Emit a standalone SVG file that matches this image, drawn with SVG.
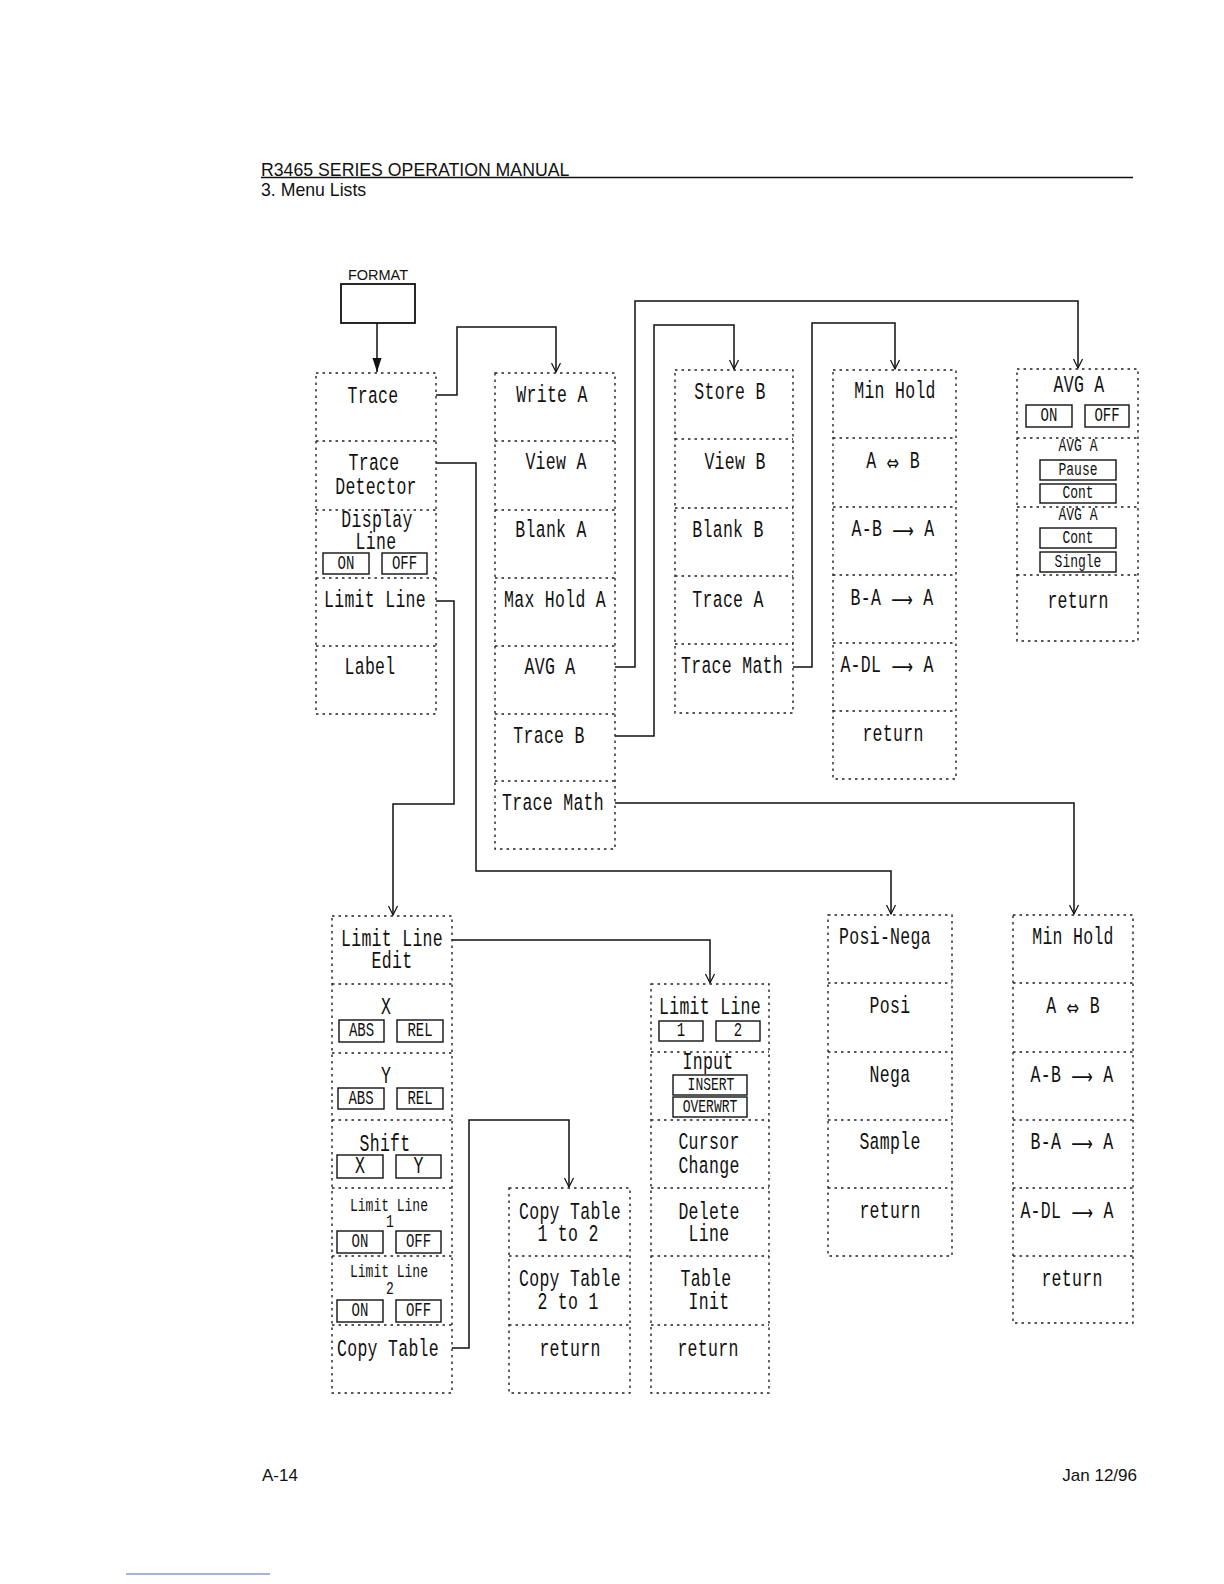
<svg xmlns="http://www.w3.org/2000/svg" width="1224" height="1584" viewBox="0 0 1224 1584">
<style>
.bg{fill:#fff}
.hdr{font-family:"Liberation Sans",Arial,sans-serif;fill:#111}
.m{font-family:"Liberation Mono","DejaVu Sans Mono",monospace;font-size:16.5px;text-anchor:middle;dominant-baseline:central;fill:#111;letter-spacing:0.3px;transform-box:fill-box;transform-origin:50% 50%;transform:scaleY(1.4)}
.s{font-size:14px;letter-spacing:0px}
.xs{font-size:13px;letter-spacing:0px}
.ar{font-family:"DejaVu Sans",sans-serif;font-size:15px}
.f{fill:none;stroke:#222;stroke-width:1.4;stroke-dasharray:2.5 4}
.b{fill:none;stroke:#111;stroke-width:1.4}
.c{fill:none;stroke:#111;stroke-width:1.5}
</style>
<defs>
<marker id="open" viewBox="-11 -6 12 12" markerWidth="12" markerHeight="12" refX="0" refY="0" markerUnits="userSpaceOnUse" orient="auto">
<path d="M-9,-4.5 L0,0 L-9,4.5" fill="none" stroke="#111" stroke-width="1.2"/>
</marker>
<marker id="solid" viewBox="-14 -6 15 12" markerWidth="15" markerHeight="12" refX="0" refY="0" markerUnits="userSpaceOnUse" orient="auto">
<path d="M-14,-4.5 L0,0 L-14,4.5 Z" fill="#111"/>
</marker>
</defs>
<rect class="bg" x="0" y="0" width="1224" height="1584"/>

<g id="page-header">
<text class="hdr" x="261" y="176" font-size="17.7">R3465 SERIES OPERATION MANUAL</text>
<line x1="261" y1="177.5" x2="1133" y2="177.5" stroke="#111" stroke-width="1.4"/>
<text class="hdr" x="261" y="196" font-size="17.7">3. Menu Lists</text>
</g>

<g id="format-key">
<text class="hdr" x="378" y="280" font-size="14.5" text-anchor="middle">FORMAT</text>
<rect x="341" y="284" width="74" height="39" fill="none" stroke="#111" stroke-width="1.8"/>
</g>

<g id="connectors">
<path class="c" d="M377 323 V372" marker-end="url(#solid)"/>
<path class="c" d="M436 395 H457 V327 H556 V372" marker-end="url(#open)"/>
<path class="c" d="M615 667 H635 V301 H1078 V368" marker-end="url(#open)"/>
<path class="c" d="M615 736 H654 V325 H734 V369" marker-end="url(#open)"/>
<path class="c" d="M793 667 H812 V323 H895 V369" marker-end="url(#open)"/>
<path class="c" d="M436 463 H476 V871 H891 V914" marker-end="url(#open)"/>
<path class="c" d="M436 601 H454 V804 H393 V915" marker-end="url(#open)"/>
<path class="c" d="M615 803 H1074 V914" marker-end="url(#open)"/>
<path class="c" d="M452 940 H710 V983" marker-end="url(#open)"/>
<path class="c" d="M452 1348 H469 V1120 H569 V1187" marker-end="url(#open)"/>
</g>

<g id="format-menu">
<rect class="f" x="316" y="373" width="120" height="341"/>
<path class="f" d="M316 441 H436 M316 510 H436 M316 578 H436 M316 646 H436"/>
<g id="fm-trace"><text class="m" x="373" y="397">Trace</text></g>
<g id="fm-trace-detector"><text class="m" x="374" y="464">Trace</text><text class="m" x="376" y="488">Detector</text></g>
<g id="fm-display-line"><text class="m" x="377" y="521">Display</text><text class="m" x="376" y="543">Line</text>
<rect class="b" x="323" y="553" width="46" height="21"/><text class="m s" x="346" y="563.5">ON</text>
<rect class="b" x="382" y="553" width="45" height="21"/><text class="m s" x="404.5" y="563.5">OFF</text></g>
<g id="fm-limit-line"><text class="m" x="375" y="601">Limit Line</text></g>
<g id="fm-label"><text class="m" x="370" y="668">Label</text></g>
</g>

<g id="trace-menu">
<rect class="f" x="495" y="373" width="120" height="476"/>
<path class="f" d="M495 441 H615 M495 510 H615 M495 578 H615 M495 646 H615 M495 714 H615 M495 781 H615"/>
<g id="tm-write-a"><text class="m" x="552" y="396">Write A</text></g>
<g id="tm-view-a"><text class="m" x="556" y="463">View A</text></g>
<g id="tm-blank-a"><text class="m" x="551" y="531">Blank A</text></g>
<g id="tm-max-hold-a"><text class="m" x="555" y="601">Max Hold A</text></g>
<g id="tm-avg-a"><text class="m" x="550" y="668">AVG A</text></g>
<g id="tm-trace-b"><text class="m" x="549" y="737">Trace B</text></g>
<g id="tm-trace-math"><text class="m" x="553" y="804">Trace Math</text></g>
</g>

<g id="trace-b-menu">
<rect class="f" x="675" y="370" width="118" height="343"/>
<path class="f" d="M675 439 H793 M675 508 H793 M675 576 H793 M675 644 H793"/>
<g id="tb-store-b"><text class="m" x="730" y="393">Store B</text></g>
<g id="tb-view-b"><text class="m" x="735" y="463">View B</text></g>
<g id="tb-blank-b"><text class="m" x="728" y="531">Blank B</text></g>
<g id="tb-trace-a"><text class="m" x="728" y="601">Trace A</text></g>
<g id="tb-trace-math"><text class="m" x="732" y="667">Trace Math</text></g>
</g>

<g id="trace-math-menu-1">
<rect class="f" x="833" y="370" width="123" height="409"/>
<path class="f" d="M833 438 H956 M833 507 H956 M833 575 H956 M833 643 H956 M833 711 H956"/>
<g id="m1-min-hold"><text class="m" x="895" y="392">Min Hold</text></g>
<g id="m1-a-swap-b"><text class="m" x="893" y="462">A <tspan class="ar">⇔</tspan> B</text></g>
<g id="m1-a-minus-b"><text class="m" x="893" y="530">A-B <tspan class="ar">⟶</tspan> A</text></g>
<g id="m1-b-minus-a"><text class="m" x="892" y="599">B-A <tspan class="ar">⟶</tspan> A</text></g>
<g id="m1-a-minus-dl"><text class="m" x="887" y="666">A-DL <tspan class="ar">⟶</tspan> A</text></g>
<g id="m1-return"><text class="m" x="893" y="735">return</text></g>
</g>

<g id="avg-menu">
<rect class="f" x="1017" y="369" width="121" height="272"/>
<path class="f" d="M1017 438 H1138 M1017 507 H1138 M1017 575 H1138"/>
<g id="avg-on-off"><text class="m" x="1079" y="386">AVG A</text>
<rect class="b" x="1026" y="405" width="46" height="22"/><text class="m s" x="1049" y="416">ON</text>
<rect class="b" x="1085" y="405" width="44" height="22"/><text class="m s" x="1107" y="416">OFF</text></g>
<g id="avg-pause-cont"><text class="m xs" x="1078" y="446">AVG A</text>
<rect class="b" x="1040" y="460" width="76" height="20"/><text class="m xs" x="1078" y="470">Pause</text>
<rect class="b" x="1040" y="484" width="76" height="19"/><text class="m xs" x="1078" y="493.5">Cont</text></g>
<g id="avg-cont-single"><text class="m xs" x="1078" y="515">AVG A</text>
<rect class="b" x="1040" y="528" width="76" height="20"/><text class="m xs" x="1078" y="538">Cont</text>
<rect class="b" x="1040" y="552" width="76" height="20"/><text class="m xs" x="1078" y="562">Single</text></g>
<g id="avg-return"><text class="m" x="1078" y="602">return</text></g>
</g>

<g id="limit-line-edit-menu">
<rect class="f" x="332" y="916" width="120" height="477"/>
<path class="f" d="M332 984 H452 M332 1053 H452 M332 1120 H452 M332 1188 H452 M332 1256 H452 M332 1325 H452"/>
<g id="ll-edit"><text class="m" x="392" y="940">Limit Line</text><text class="m" x="392" y="962">Edit</text></g>
<g id="ll-x"><text class="m" x="386" y="1008">X</text>
<rect class="b" x="339" y="1020" width="45" height="22"/><text class="m s" x="361.5" y="1031">ABS</text>
<rect class="b" x="397" y="1020" width="46" height="22"/><text class="m s" x="420" y="1031">REL</text></g>
<g id="ll-y"><text class="m" x="386" y="1077">Y</text>
<rect class="b" x="338" y="1088" width="46" height="21"/><text class="m s" x="361" y="1098.5">ABS</text>
<rect class="b" x="397" y="1088" width="46" height="21"/><text class="m s" x="420" y="1098.5">REL</text></g>
<g id="ll-shift"><text class="m" x="385" y="1145">Shift</text>
<rect class="b" x="337" y="1155" width="46" height="23"/><text class="m" x="360" y="1166.5">X</text>
<rect class="b" x="396" y="1155" width="45" height="23"/><text class="m" x="418.5" y="1166.5">Y</text></g>
<g id="ll-line1"><text class="m xs" x="389" y="1206">Limit Line</text><text class="m xs" x="390" y="1222">1</text>
<rect class="b" x="337" y="1231" width="46" height="22"/><text class="m s" x="360" y="1242">ON</text>
<rect class="b" x="396" y="1231" width="45" height="22"/><text class="m s" x="418.5" y="1242">OFF</text></g>
<g id="ll-line2"><text class="m xs" x="389" y="1272">Limit Line</text><text class="m xs" x="390" y="1289">2</text>
<rect class="b" x="337" y="1300" width="46" height="22"/><text class="m s" x="360" y="1311">ON</text>
<rect class="b" x="396" y="1300" width="45" height="22"/><text class="m s" x="418.5" y="1311">OFF</text></g>
<g id="ll-copy-table"><text class="m" x="388" y="1350">Copy Table</text></g>
</g>

<g id="copy-table-menu">
<rect class="f" x="509" y="1188" width="121" height="205"/>
<path class="f" d="M509 1256 H630 M509 1325 H630"/>
<g id="ct-1to2"><text class="m" x="570" y="1213">Copy Table</text><text class="m" x="568" y="1235">1 to 2</text></g>
<g id="ct-2to1"><text class="m" x="570" y="1280">Copy Table</text><text class="m" x="568" y="1303">2 to 1</text></g>
<g id="ct-return"><text class="m" x="570" y="1350">return</text></g>
</g>

<g id="limit-line-table-menu">
<rect class="f" x="651" y="984" width="118" height="409"/>
<path class="f" d="M651 1052 H769 M651 1120 H769 M651 1188 H769 M651 1256 H769 M651 1325 H769"/>
<g id="lt-select"><text class="m" x="710" y="1008">Limit Line</text>
<rect class="b" x="659" y="1021" width="44" height="20"/><text class="m s" x="681" y="1031">1</text>
<rect class="b" x="716" y="1021" width="44" height="20"/><text class="m s" x="738" y="1031">2</text></g>
<g id="lt-input"><text class="m" x="708" y="1063">Input</text>
<rect class="b" x="673" y="1075" width="74" height="20"/><text class="m xs" x="711" y="1085">INSERT</text>
<rect class="b" x="673" y="1097" width="74" height="20"/><text class="m xs" x="710" y="1107">OVERWRT</text></g>
<g id="lt-cursor"><text class="m" x="709" y="1143">Cursor</text><text class="m" x="709" y="1167">Change</text></g>
<g id="lt-delete"><text class="m" x="709" y="1213">Delete</text><text class="m" x="709" y="1235">Line</text></g>
<g id="lt-init"><text class="m" x="706" y="1280">Table</text><text class="m" x="709" y="1303">Init</text></g>
<g id="lt-return"><text class="m" x="708" y="1350">return</text></g>
</g>

<g id="detector-menu">
<rect class="f" x="828" y="915" width="124" height="341"/>
<path class="f" d="M828 983 H952 M828 1052 H952 M828 1120 H952 M828 1188 H952"/>
<g id="dt-posi-nega"><text class="m" x="885" y="938">Posi-Nega</text></g>
<g id="dt-posi"><text class="m" x="890" y="1007">Posi</text></g>
<g id="dt-nega"><text class="m" x="890" y="1076">Nega</text></g>
<g id="dt-sample"><text class="m" x="890" y="1143">Sample</text></g>
<g id="dt-return"><text class="m" x="890" y="1212">return</text></g>
</g>

<g id="trace-math-menu-2">
<rect class="f" x="1013" y="915" width="120" height="408"/>
<path class="f" d="M1013 983 H1133 M1013 1052 H1133 M1013 1120 H1133 M1013 1188 H1133 M1013 1256 H1133"/>
<g id="m2-min-hold"><text class="m" x="1073" y="938">Min Hold</text></g>
<g id="m2-a-swap-b"><text class="m" x="1073" y="1007">A <tspan class="ar">⇔</tspan> B</text></g>
<g id="m2-a-minus-b"><text class="m" x="1072" y="1076">A-B <tspan class="ar">⟶</tspan> A</text></g>
<g id="m2-b-minus-a"><text class="m" x="1072" y="1143">B-A <tspan class="ar">⟶</tspan> A</text></g>
<g id="m2-a-minus-dl"><text class="m" x="1067" y="1212">A-DL <tspan class="ar">⟶</tspan> A</text></g>
<g id="m2-return"><text class="m" x="1072" y="1280">return</text></g>
</g>

<g id="page-footer">
<text class="hdr" x="262" y="1481" font-size="17">A-14</text>
<text class="hdr" x="1137" y="1481" font-size="17" text-anchor="end">Jan 12/96</text>
<line x1="126" y1="1574" x2="270" y2="1574" stroke="#4a63d8" stroke-width="1"/>
</g>
</svg>
